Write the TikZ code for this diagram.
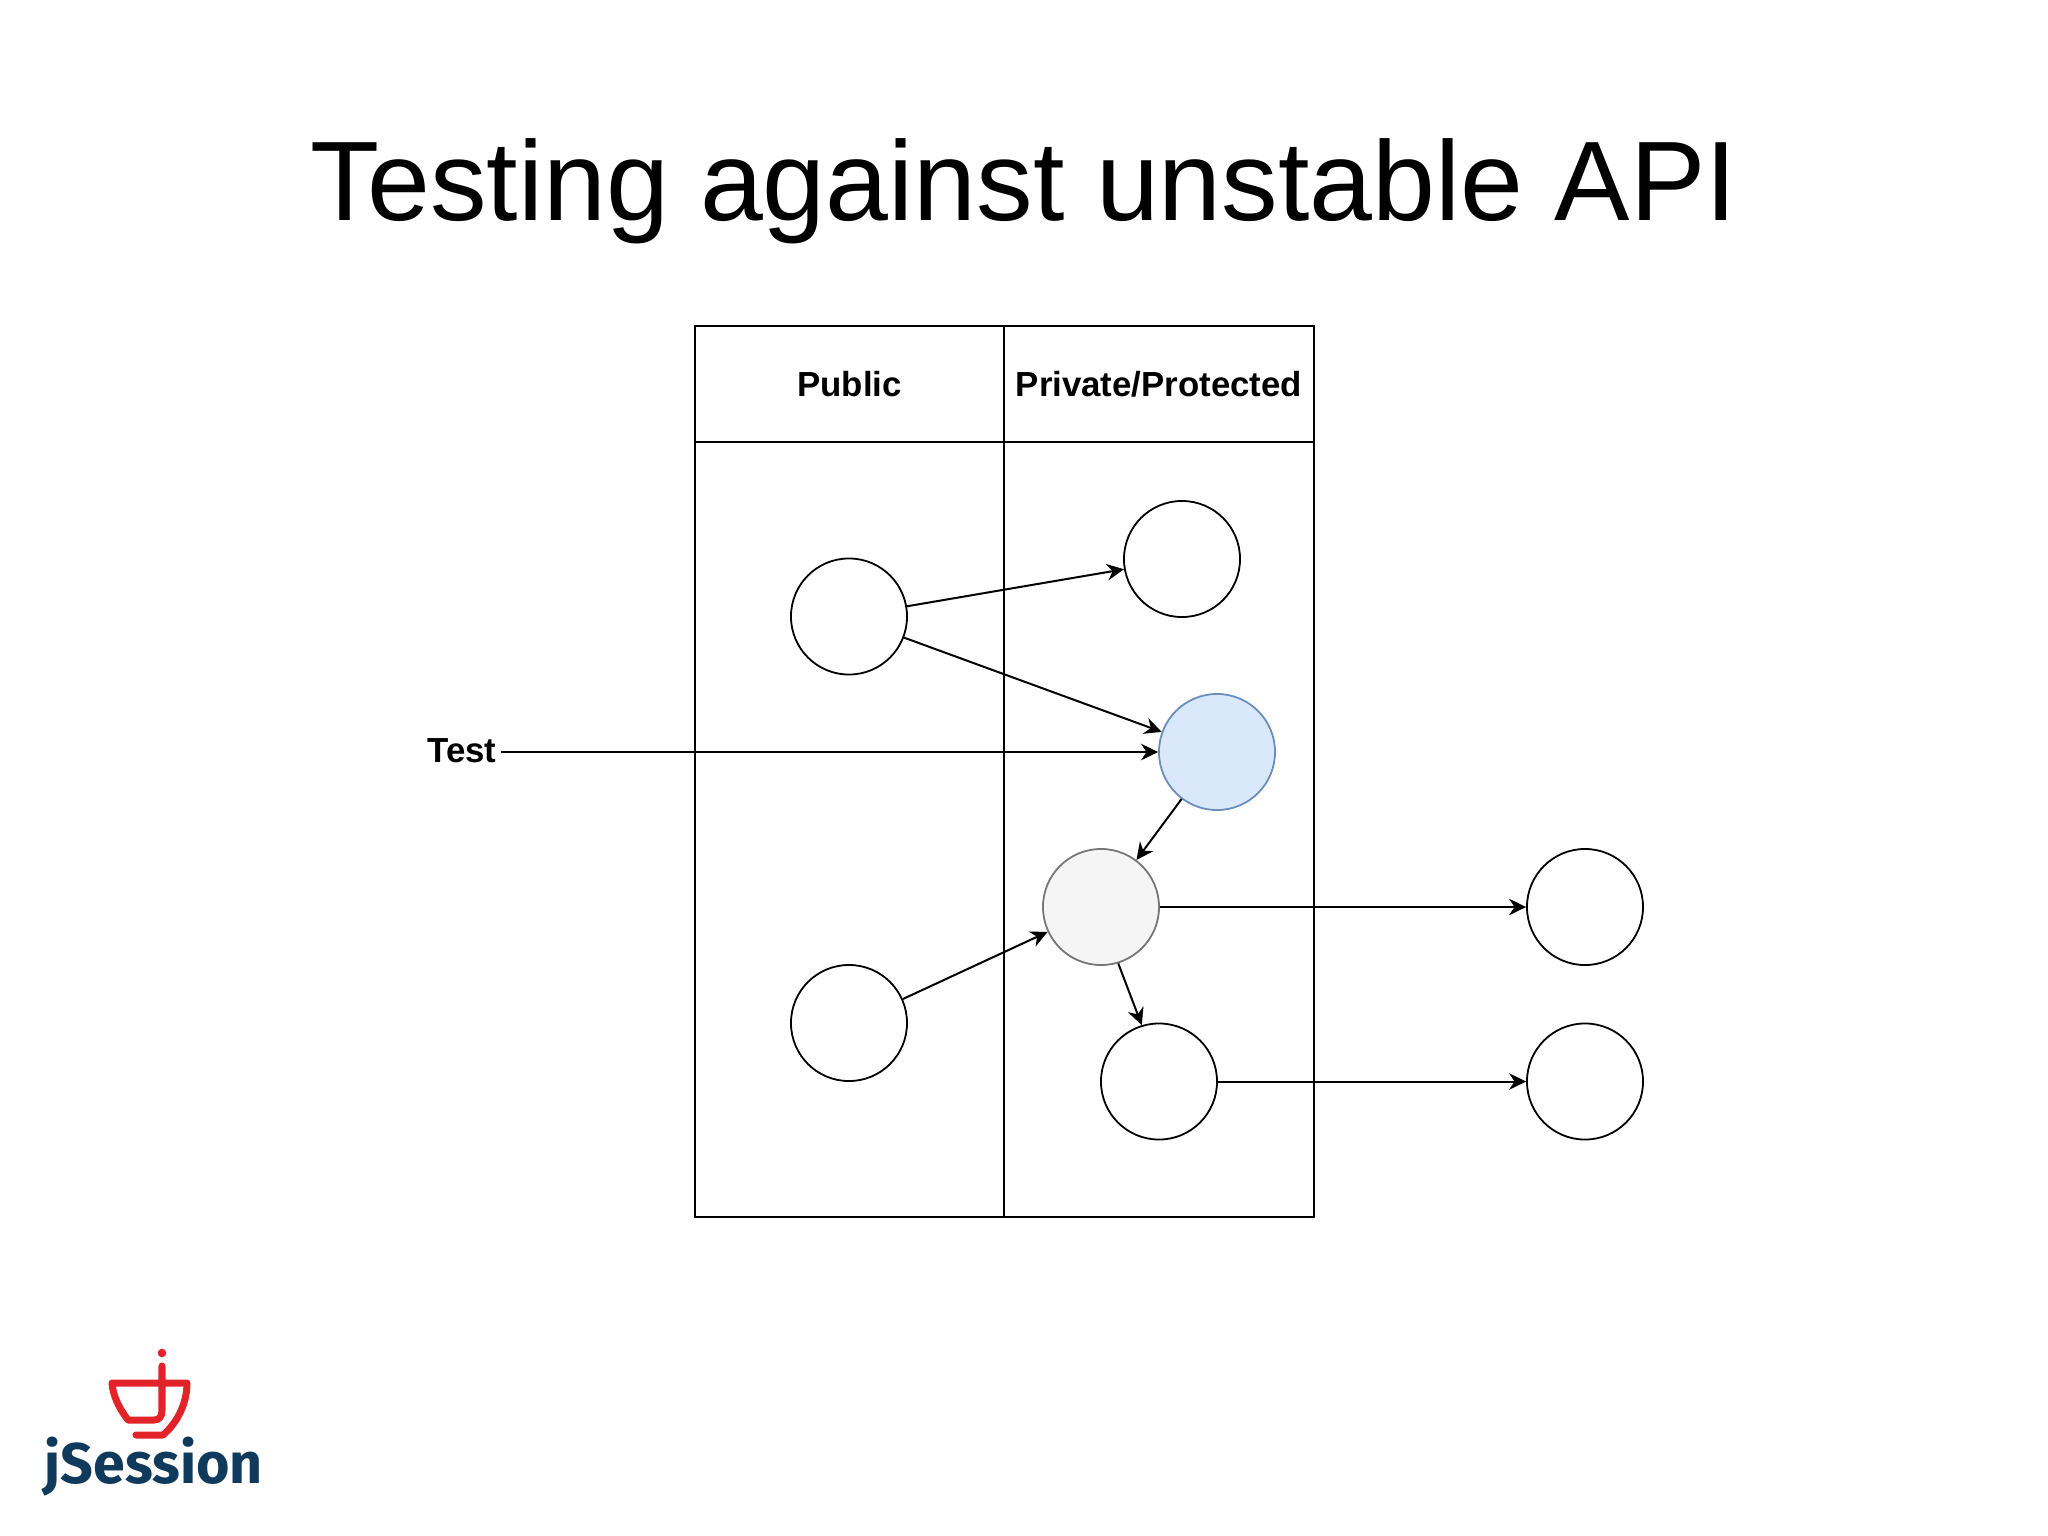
\documentclass[tikz,border=0pt]{standalone}
\usepackage{fontspec}
\setmainfont{Liberation Sans}
\newfontfamily\logofont{Fira Sans}
\usetikzlibrary{arrows.meta}
\definecolor{logored}{HTML}{E2232A}
\definecolor{logoblue}{HTML}{103A5C}
\definecolor{bluefill}{HTML}{DAE8FC}
\definecolor{blueedge}{HTML}{6C8EBF}
\definecolor{grayfill}{HTML}{F5F5F5}
\definecolor{grayedge}{HTML}{777777}
\tikzset{
  px/.style={x=0.01cm,y=-0.01cm},
  cell/.style={draw=black,line width=0.02cm,rectangle,inner sep=0pt,font=\bfseries\fontsize{9.9}{12}\selectfont},
  headcell/.style={cell,minimum width=3.09cm,minimum height=1.16cm},
  bodycell/.style={cell,minimum width=3.09cm,minimum height=7.75cm},
  proc/.style={circle,draw=black,line width=0.018cm,fill=white,minimum size=1.16cm,inner sep=0pt},
  blueproc/.style={proc,draw=blueedge,fill=bluefill},
  grayproc/.style={proc,draw=grayedge,fill=grayfill},
  link/.style={line width=0.02cm,-{Stealth[length=0.17cm,width=0.165cm]}},
  cup/.style={draw=logored,line width=0.07cm,line cap=round,line join=round}
}
\begin{document}
\begin{tikzpicture}[px]
\useasboundingbox (0,0) rectangle (2048,1536);
\node[anchor=base,font=\fontsize{32.15}{36}\selectfont] (title) at (1024,220) {Testing against unstable API};
% lanes
\node[headcell] (hpub) at (849.5,384) {Public};
\node[headcell] (hpriv) at (1159,384) {Private/Protected};
\node[bodycell] (bpub) at (849.5,829.5) {};
\node[bodycell] (bpriv) at (1159,829.5) {};
% circles
\node[proc] (a) at (849,616.5) {};
\node[proc] (b) at (1182,559) {};
\node[blueproc] (c) at (1217,752) {};
\node[grayproc] (d) at (1101,907) {};
\node[proc] (e) at (849,1023) {};
\node[proc] (f) at (1159,1081.5) {};
\node[proc] (g) at (1585,907) {};
\node[proc] (h) at (1585,1081.5) {};
\node[font=\bfseries\fontsize{9.9}{12}\selectfont,inner xsep=1.2pt,inner ysep=0pt] (test) at (462,751) {Test};
% connectors
\draw[link] (a.10) -- (b.190);
\draw[link] (a.-21) -- (c.160);
\draw[link] (test.east |- c.west) -- (c.west);
\draw[link] (c.-127) -- (d.53);
\draw[link] (e.24) -- (d.205);
\draw[link] (d.-73) -- (f.107);
\draw[link] (d.east) -- (g.west);
\draw[link] (f.east) -- (h.west);
% logo
\fill[logored] (162,1353) circle (4.3);
\draw[cup] (162,1366) -- (162,1410) .. controls (162,1417) and (159,1420) .. (154,1420) -- (128,1420)
  .. controls (119,1408) and (113,1396) .. (112,1383) -- (187,1383)
  .. controls (187,1405) and (176,1424) .. (163,1435) -- (136,1435);
\node[anchor=base west,inner sep=0pt,text=logoblue,font=\logofont\bfseries\fontsize{16.3}{18}\selectfont] (logo) at (44,1483) {jSession};
\end{tikzpicture}
\end{document}
